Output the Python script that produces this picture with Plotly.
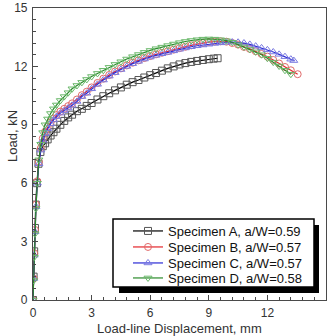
import plotly.graph_objects as go

# ---- data ----
names = ["Specimen A, a/W=0.59", "Specimen B, a/W=0.57",
         "Specimen C, a/W=0.57", "Specimen D, a/W=0.58"]

xA = [0, 0.03, 0.06, 0.1, 0.14, 0.2, 0.28, 0.38, 0.5, 0.62, 0.75, 0.9, 1.05, 1.2, 1.4, 1.6,
      1.8, 2.0, 2.25, 2.5, 2.75, 3.0, 3.3, 3.6, 3.9, 4.2, 4.5, 4.8, 5.1, 5.4, 5.7, 6.0, 6.3,
      6.6, 6.9, 7.2, 7.5, 7.8, 8.1, 8.4, 8.7, 9.0, 9.25, 9.45]
yA = [0, 1.2, 2.5, 3.7, 4.9, 6.0, 7.0, 7.6, 7.9, 8.05, 8.25, 8.45, 8.62, 8.8, 9.0, 9.2,
      9.38, 9.52, 9.7, 9.82, 9.97, 10.12, 10.3, 10.47, 10.62, 10.77, 10.92, 11.06, 11.19, 11.3,
      11.43, 11.55, 11.66, 11.78, 11.9, 12.0, 12.1, 12.17, 12.23, 12.28, 12.33, 12.37, 12.4, 12.42]

xB = [0, 0.03, 0.06, 0.1, 0.15, 0.22, 0.3, 0.4, 0.5, 0.62, 0.75, 0.9, 1.05, 1.2, 1.4, 1.6,
      1.8, 2.0, 2.25, 2.5, 2.75, 3.0, 3.3, 3.6, 3.9, 4.2, 4.5, 4.8, 5.1, 5.4, 5.7, 6.0, 6.3,
      6.6, 6.9, 7.2, 7.5, 7.8, 8.1, 8.4, 8.7, 9.0, 9.3, 9.6, 9.9, 10.2, 10.5, 10.8, 11.1,
      11.4, 11.7, 12.0, 12.3, 12.6, 12.9, 13.2, 13.55]
yB = [0, 1.1, 2.4, 3.6, 4.9, 6.1, 7.1, 7.8, 8.3, 8.65, 8.9, 9.12, 9.32, 9.5, 9.68, 9.82,
      9.96, 10.1, 10.3, 10.52, 10.7, 10.92, 11.15, 11.37, 11.56, 11.74, 11.9, 12.05, 12.19,
      12.31, 12.43, 12.53, 12.62, 12.7, 12.78, 12.86, 12.94, 13.01, 13.08, 13.14, 13.2, 13.25,
      13.28, 13.29, 13.27, 13.2, 13.12, 13.0, 12.9, 12.78, 12.64, 12.5, 12.33, 12.15, 11.97,
      11.8, 11.6]

xC = [0, 0.03, 0.06, 0.1, 0.15, 0.22, 0.3, 0.4, 0.5, 0.62, 0.75, 0.9, 1.05, 1.2, 1.4, 1.6,
      1.8, 2.0, 2.25, 2.5, 2.75, 3.0, 3.3, 3.6, 3.9, 4.2, 4.5, 4.8, 5.1, 5.4, 5.7, 6.0, 6.3,
      6.6, 6.9, 7.2, 7.5, 7.8, 8.1, 8.4, 8.7, 9.0, 9.3, 9.6, 9.9, 10.2, 10.5, 10.8, 11.1,
      11.4, 11.7, 12.0, 12.3, 12.6, 12.9, 13.2, 13.35]
yC = [0, 1.1, 2.3, 3.5, 4.8, 6.0, 7.0, 7.7, 8.2, 8.55, 8.8, 9.05, 9.25, 9.42, 9.6, 9.73,
      9.86, 10.0, 10.2, 10.45, 10.62, 10.85, 11.08, 11.3, 11.5, 11.68, 11.84, 12.0, 12.14,
      12.26, 12.38, 12.48, 12.57, 12.65, 12.72, 12.8, 12.88, 12.95, 13.01, 13.06, 13.1, 13.14,
      13.18, 13.21, 13.24, 13.25, 13.24, 13.2, 13.13, 13.04, 12.95, 12.85, 12.74, 12.62, 12.5,
      12.37, 12.3]

xD = [0, 0.03, 0.06, 0.1, 0.15, 0.22, 0.3, 0.4, 0.5, 0.62, 0.75, 0.9, 1.05, 1.2, 1.4, 1.6,
      1.8, 2.0, 2.25, 2.5, 2.75, 3.0, 3.3, 3.6, 3.9, 4.2, 4.5, 4.8, 5.1, 5.4, 5.7, 6.0, 6.3,
      6.6, 6.9, 7.2, 7.5, 7.8, 8.1, 8.4, 8.7, 9.0, 9.3, 9.6, 9.9, 10.2, 10.5, 10.8, 11.1,
      11.4, 11.7, 12.0, 12.3, 12.6, 12.9, 13.2]
yD = [0, 1.0, 2.2, 3.4, 4.7, 6.0, 7.2, 8.0, 8.6, 9.0, 9.3, 9.58, 9.82, 10.02, 10.25, 10.45,
      10.65, 10.85, 11.02, 11.18, 11.33, 11.48, 11.64, 11.8, 11.95, 12.1, 12.24, 12.38, 12.5,
      12.61, 12.72, 12.82, 12.91, 12.99, 13.07, 13.15, 13.22, 13.28, 13.33, 13.37, 13.4, 13.41,
      13.4, 13.37, 13.32, 13.24, 13.12, 13.0, 12.87, 12.75, 12.6, 12.42, 12.22, 12.02, 11.8, 11.6]

line_colors = ["#000000", "#e3262b", "#2b2bd6", "#2a8a2a"]
marker_colors = ["#555555", "#e06a6a", "#7a7ae0", "#6ab86a"]
symbols = ["square-open", "circle-open", "triangle-up-open", "triangle-down-open"]

xticks = [0, 3, 6, 9, 12, 15]
yticks = [0, 3, 6, 9, 12, 15]

x_title = "Load-line Displacement, mm"
y_title = "Load, kN"

FONT = "Liberation Sans, Arial, sans-serif"

# plot-area geometry in pixels (used only to place the legend box / titles)
W, H = 332, 336
PL, PR, PT, PB = 33, 326, 8, 300
PW, PH = PR - PL, PB - PT


def px(xp):
    return (xp - PL) / PW


def py(yp):
    return (PB - yp) / PH


row_y = [231, 247, 263, 278]
legend_ids = ["legend", "legend2", "legend3", "legend4"]

fig = go.Figure()
for xs, ys, nm, lc, mc, sym, lg in zip([xA, xB, xC, xD], [yA, yB, yC, yD], names,
                                        line_colors, marker_colors, symbols, legend_ids):
    fig.add_trace(go.Scatter(
        x=xs, y=ys, name=nm, mode="lines+markers", legend=lg,
        line=dict(color=lc, width=1.2),
        marker=dict(symbol=sym, size=7, color=mc, line=dict(color=mc, width=1)),
    ))

axis_common = dict(
    range=[0, 15], showgrid=False, zeroline=False, automargin=False,
    showline=True, linecolor="#4a4a4a", linewidth=1.2, mirror=True,
    ticks="inside", ticklen=5, tickwidth=1, tickcolor="#4a4a4a",
    tickfont=dict(family=FONT, size=12, color="#333333"),
    minor=dict(ticks="inside", ticklen=3, dtick=0.6, tickcolor="#4a4a4a", tickwidth=1),
)

fig.update_xaxes(tickvals=xticks, ticklabelstandoff=1, **axis_common)
fig.update_yaxes(tickvals=yticks, ticklabelstandoff=2, **axis_common)

fig.add_annotation(text=x_title, xref="paper", yref="paper", x=0.5, y=py(328),
                   xanchor="center", yanchor="middle", showarrow=False,
                   font=dict(family=FONT, size=13, color="#333333"))
fig.add_annotation(text=y_title, xref="paper", yref="paper", x=px(12), y=py(136),
                   xanchor="center", yanchor="middle", showarrow=False, textangle=-90,
                   font=dict(family=FONT, size=13, color="#333333"))

# legend frame with drop shadow
fig.add_shape(type="rect", xref="paper", yref="paper",
              x0=px(119), x1=px(319), y0=py(293), y1=py(225),
              fillcolor="black", line=dict(width=0), layer="above")
fig.add_shape(type="rect", xref="paper", yref="paper",
              x0=px(113), x1=px(314), y0=py(287), y1=py(219),
              fillcolor="white", line=dict(color="black", width=1.5), layer="above")

layout_legends = {}
for lg, ry in zip(legend_ids, row_y):
    layout_legends[lg] = dict(
        x=px(128), y=py(ry), xanchor="left", yanchor="middle",
        bgcolor="rgba(0,0,0,0)", borderwidth=0,
        font=dict(family=FONT, size=13, color="#111111"), itemwidth=30)

fig.update_layout(
    width=W, height=H,
    margin=dict(l=PL, r=W - PR, t=PT, b=H - PB),
    paper_bgcolor="white", plot_bgcolor="white",
    font=dict(family=FONT, size=13, color="#222222"),
    showlegend=True,
    **layout_legends,
)

fig.write_html("out.html")
